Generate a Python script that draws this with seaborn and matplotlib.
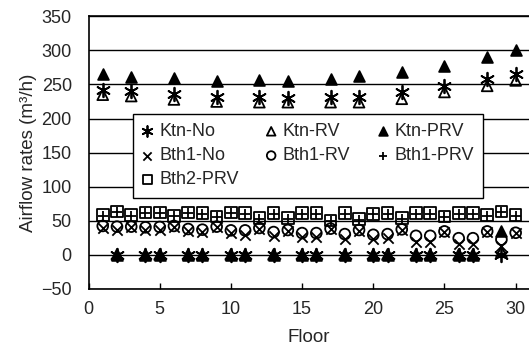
import numpy as np
import pandas as pd
import seaborn as sns
import matplotlib.pyplot as plt

# ---------- Data ----------
floors = list(range(1, 31))

ktn_no = [242, 0, 241, 0, 0, 236, 0, 0, 231, 0, 0, 231, 0, 230, 0,
          0, 231, 0, 231, 0, 0, 239, 0, 0, 248, 0, 0, 258, 0, 266]
ktn_rv = [235, 0, 233, 0, 0, 228, 0, 0, 225, 0, 0, 224, 0, 224, 0,
          0, 224, 0, 224, 0, 0, 229, 0, 0, 239, 0, 0, 248, 4, 256]
ktn_prv = [265, 0, 261, 0, 0, 259, 0, 0, 255, 0, 0, 257, 0, 255, 0,
           0, 258, 0, 262, 0, 0, 268, 0, 0, 277, 0, 0, 291, 35, 300]
bth1_no = [39, 36.5, 40, 35.5, 36.5, 41, 34, 33, 40, 31.5, 29, 38, 27, 35, 26,
           26, 37, 23, 35, 23, 24, 36, 19, 19, 33, 16, 16, 33, 12, 31]
bth1_rv = [42, 41, 41, 40, 40.5, 42, 37.5, 36.5, 41, 35.5, 35.5, 39, 33, 36, 31.5,
           31.5, 38, 30, 36, 29, 30, 37, 27.5, 27.5, 34, 24, 24, 34, 22, 32]
bth1_prv = [57, 62, 57, 61, 61, 56, 61, 60, 55, 61, 60, 52, 60, 52, 60,
            60, 49, 60, 51, 59, 60, 52, 60, 60, 55, 60, 60, 57, 62, 57]
bth2_prv = [58.5, 63, 58.5, 62, 62, 57, 62, 61, 56, 62, 61, 53.5, 61, 53.5, 61,
            61, 50, 61, 52, 60, 61, 53.5, 61, 61, 56, 61, 61, 58.5, 63, 58.5]

# ---------- Style ----------
sns.set_style("white")
plt.rcParams["font.family"] = ["Liberation Sans", "DejaVu Sans"]

fig = plt.figure(figsize=(5.29, 3.54), dpi=100)
ax = fig.add_axes([0.1673, 0.185, 0.8344, 0.7684])

# name, values, marker size, scatter kwargs
series = [
    ("Ktn-RV", ktn_rv, 60, dict(marker="^", facecolors="none", edgecolor="black")),
    ("Ktn-No", ktn_no, 95, dict(marker=(6, 2, 0))),
    ("Ktn-PRV", ktn_prv, 60, dict(marker="^", edgecolor="black")),
    ("Bth1-No", bth1_no, 55, dict(marker="x")),
    ("Bth1-RV", bth1_rv, 60, dict(marker="o", facecolors="none", edgecolor="black")),
    ("Bth2-PRV", bth2_prv, 70, dict(marker="s", facecolors="none", edgecolor="black")),
    ("Bth1-PRV", bth1_prv, 60, dict(marker="+")),
]

handles = {}
for name, vals, size, kw in series:
    df = pd.DataFrame({"floor": floors, "rate": vals})
    sns.scatterplot(data=df, x="floor", y="rate", ax=ax, color="black",
                    s=size, linewidth=1.3, label=name, legend=False, **kw)
    handles[name] = ax.collections[-1]

ax.set_xlim(0, 31)
ax.set_ylim(-50, 350)
ax.set_xticks([0, 5, 10, 15, 20, 25, 30])
ax.set_yticks(np.arange(-50, 351, 50))
ax.yaxis.grid(True, color="black", linewidth=1.0)
ax.xaxis.grid(False)
ax.set_axisbelow(True)

for side in ["left", "bottom", "top"]:
    ax.spines[side].set_color("black")
    ax.spines[side].set_linewidth(1.2)
ax.spines["right"].set_visible(False)

ax.tick_params(axis="x", direction="in", length=4, width=1, color="black",
               labelsize=13, pad=9, bottom=True)
ax.tick_params(axis="y", length=0, labelsize=13, pad=12)

ax.set_xlabel("Floor", fontsize=13.5, labelpad=8)
ax.set_ylabel("Airflow rates (m³/h)", fontsize=13.5, labelpad=3)

order = ["Ktn-No", "Bth1-No", "Bth2-PRV", "Ktn-RV", "Bth1-RV", "Ktn-PRV", "Bth1-PRV"]
leg = ax.legend([handles[n] for n in order], order, ncol=3, loc="upper left",
                bbox_to_anchor=(0.1008, 0.6415), frameon=True, fancybox=False,
                edgecolor="black", framealpha=1, fontsize=13, handlelength=0.6,
                handletextpad=0.35, columnspacing=1.5, borderpad=0.5,
                labelspacing=0.4, markerscale=0.8, borderaxespad=0)
leg.get_frame().set_linewidth(1.0)

fig.savefig("out.png", dpi=100)
